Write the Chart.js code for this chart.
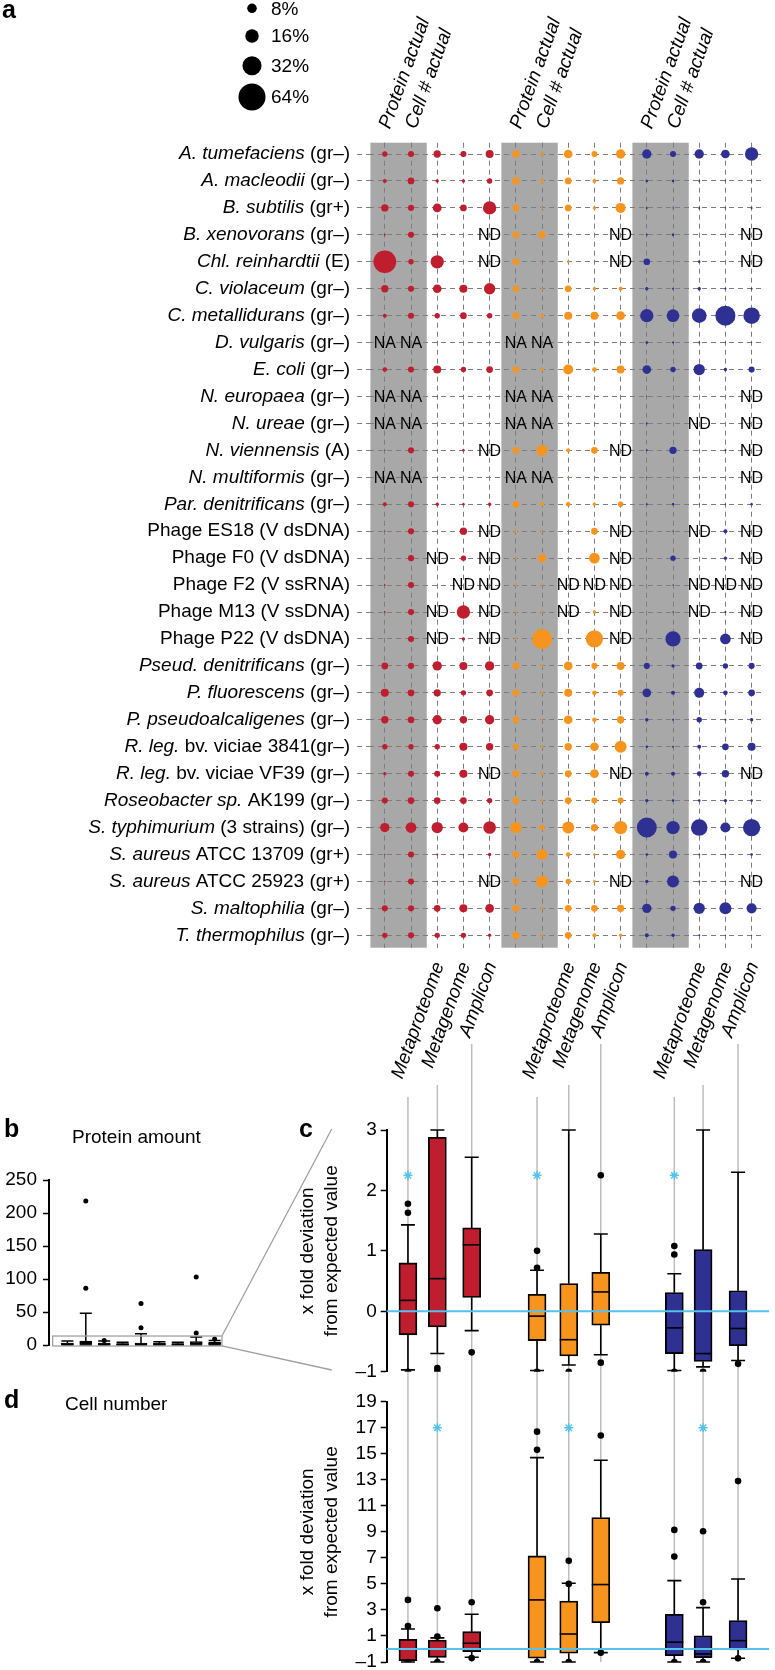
<!DOCTYPE html>
<html>
<head>
<meta charset="utf-8">
<script src="https://cdn.jsdelivr.net/npm/chart.js@4.4.1/dist/chart.umd.min.js"></script>
<style>
  html, body { margin: 0; padding: 0; background: #fff; }
  body { width: 775px; height: 1670px; position: relative; overflow: hidden;
         font-family: "Liberation Sans", Arial, Helvetica, sans-serif; color: #000; }
  canvas { position: absolute; }
  .panel { position: absolute; font-weight: bold; font-size: 25px; line-height: 1; }
  .title { position: absolute; font-size: 19px; line-height: 1; white-space: nowrap; }
</style>
</head>
<body>
<canvas id="chartA" width="775" height="1100" style="left:0;top:0;width:775px;height:1100px"></canvas>
<canvas id="chartB" width="340" height="300" style="left:0;top:1100px;width:340px;height:300px"></canvas>
<canvas id="chartC" width="485" height="345" style="left:290px;top:1040px;width:485px;height:345px"></canvas>
<canvas id="chartD" width="485" height="290" style="left:290px;top:1385px;width:485px;height:290px"></canvas>

<div class="panel" style="left:2px;top:-3px">a</div>
<div class="panel" style="left:4px;top:1116px">b</div>
<div class="panel" style="left:299px;top:1116px">c</div>
<div class="panel" style="left:4px;top:1387px">d</div>
<div class="title" style="left:72px;top:1127px">Protein amount</div>
<div class="title" style="left:65px;top:1394px">Cell number</div>

<script>
// ---------- panel a: share of each organism (%) ----------
const species = [
  ['A. tumefaciens', ' (gr–)'],
  ['A. macleodii', ' (gr–)'],
  ['B. subtilis', ' (gr+)'],
  ['B. xenovorans', ' (gr–)'],
  ['Chl. reinhardtii', ' (E)'],
  ['C. violaceum', ' (gr–)'],
  ['C. metallidurans', ' (gr–)'],
  ['D. vulgaris', ' (gr–)'],
  ['E. coli', ' (gr–)'],
  ['N. europaea', ' (gr–)'],
  ['N. ureae', ' (gr–)'],
  ['N. viennensis', ' (A)'],
  ['N. multiformis', ' (gr–)'],
  ['Par. denitrificans', ' (gr–)'],
  ['', 'Phage ES18 (V dsDNA)'],
  ['', 'Phage F0 (V dsDNA)'],
  ['', 'Phage F2 (V ssRNA)'],
  ['', 'Phage M13 (V ssDNA)'],
  ['', 'Phage P22 (V dsDNA)'],
  ['Pseud. denitrificans', ' (gr–)'],
  ['P. fluorescens', ' (gr–)'],
  ['P. pseudoalcaligenes', ' (gr–)'],
  ['R. leg.', ' bv. viciae 3841(gr–)'],
  ['R. leg.', ' bv. viciae VF39 (gr–)'],
  ['Roseobacter sp.', ' AK199 (gr–)'],
  ['S. typhimurium', ' (3 strains) (gr–)'],
  ['S. aureus', ' ATCC 13709 (gr+)'],
  ['S. aureus', ' ATCC 25923 (gr+)'],
  ['S. maltophilia', ' (gr–)'],
  ['T. thermophilus', ' (gr–)']
];
const actualLabels = ['Protein actual', 'Cell # actual'];
const methodLabels = ['Metaproteome', 'Metagenome', 'Amplicon'];
const sizeKey = [8, 16, 32, 64];

// red community
const redProt = [2.5, 1.4, 4.7, 0.35, 45, 4.7, 1.4, 'NA', 1.9, 'NA', 'NA', 0.15, 'NA', 1.4, 0.15, null, 0.3, 0.3, null, 3.9, 5.6, 4.7, 2.5, 1, 3.2, 7.6, 0.15, 0.15, 3.2, 2.5];
const redCell = [3.2, 3.9, 3.2, 3.2, 2.5, 3.2, 3.2, 'NA', 3.2, 'NA', 'NA', 3.2, 'NA', 3.2, 3.2, 3.2, 3.2, 3.2, 3.2, 3.2, 3.9, 3.9, 2.5, 3.2, 3.9, 10, 3.2, 3.2, 3.2, 3.2];
const redMP = [4.7, 1, 6.6, 0.1, 15.5, 6.6, 2.5, null, 5.6, 0.1, null, 0.15, 0.1, 1, null, 'ND', null, 'ND', 'ND', 7.6, 4.7, 7.6, 2.5, 3.2, 3.9, 11.2, 0.35, 0.15, 3.9, 2.5];
const redMG = [3.2, 1, 3.9, null, null, 5.6, 3.9, null, 2.5, null, null, 0.6, null, 0.6, 4.7, 2.5, 'ND', 15.5, 1, 5.6, 2.5, 4.7, 5.6, 5.6, 3.9, 8.8, 0.15, 0.15, 5.6, 2.5];
const redAmp = [5.6, 2.5, 15.5, 'ND', 'ND', 11.2, 2.5, null, 3.9, null, null, 'ND', null, 1, 'ND', 'ND', 'ND', 'ND', 'ND', 7.6, 3.9, 7.6, 4.7, 'ND', 2.5, 14, 1, 'ND', 6.6, 1];
// orange community
const orProt = [4.7, 4.7, 3.9, 3.9, 3.9, 3.9, 3.9, 'NA', 3.9, 'NA', 'NA', 3.9, 'NA', 3.9, 0.6, 0.35, 0.35, 0.35, 0.35, 3.9, 3.9, 3.9, 3.2, 3.9, 3.9, 11.2, 3.9, 3.9, 3.9, 4.7];
const orCell = [1, 1.4, 0.35, 4.7, 0.1, 0.35, 1.4, 'NA', 1, 'NA', 'NA', 11.2, 'NA', 1.4, 0.35, 5.6, 0.35, 0.35, 35, 0.6, 0.6, 0.35, 0.6, 1, 0.6, 2.5, 10, 12.6, 0.6, 0.6];
const orMP = [6.6, 3.9, 3.9, null, 0.6, 3.9, 5.6, null, 8.8, null, null, 1.4, 0.15, 1.9, null, null, 'ND', 'ND', null, 6.6, 5.6, 6.6, 4.7, 3.9, 3.9, 12.6, 1.9, 2.5, 3.9, 3.9];
const orMG = [3.2, 1.4, 1, null, null, 1, 5.6, null, 1.9, null, null, 3.9, null, 1, 3.9, 10, 'ND', 1, 26, 3.2, 1.9, 1.9, 6.6, 6.6, 3.2, 4.7, 0.6, 0.6, 3.9, 1.4];
const orAmp = [7.6, 4.7, 8.8, 'ND', 'ND', 1.4, 6.6, null, 5.6, null, null, 'ND', null, 2.5, 'ND', 'ND', 'ND', 'ND', 'ND', 5.6, 3.2, 4.7, 12.6, 'ND', 3.2, 15.5, 7.6, 'ND', 4.7, 1];
// blue community
const bluProt = [7.6, 0.6, 0.35, 0.35, 3.9, 1, 15.5, 0.6, 6.6, 0.05, 0.35, 0.35, 0.15, 0.35, null, null, null, null, null, 3.2, 6.6, 1, 0.6, 1.4, 1, 35, 0.6, 1, 7.6, 1.4];
const bluCell = [3.2, 0.6, 0.15, 0.6, null, 0.35, 14, 0.35, 2.5, null, null, 4.7, null, 0.6, 0.15, 2.5, 0.15, 0.15, 20.5, 1, 1.4, 0.35, 0.35, 1.4, 0.6, 15.5, 5.6, 12.6, 2.5, 1];
const bluMP = [7.6, 0.35, 0.35, null, 0.6, 1, 18.8, 0.35, 11.2, null, 'ND', 0.15, 0.1, 0.15, 'ND', null, 'ND', 'ND', null, 3.9, 8.8, 2.5, 1.4, 1.9, 0.6, 24, 0.35, 0.35, 11.2, 0.35];
const bluMG = [6.6, 0.15, 0.15, null, null, 0.35, 35, 0.15, 1, null, null, 0.35, null, 0.15, 1.4, 1, 'ND', 0.35, 10, 2.5, 1.9, 0.35, 3.9, 4.7, 1, 8.8, 0.15, 0.15, 12.6, 0.15];
const bluAmp = [15.5, 0.15, 0.35, 'ND', 'ND', 0.35, 24, 0.15, 3.2, 'ND', 'ND', 'ND', 'ND', 0.6, 'ND', 'ND', 'ND', 'ND', 'ND', 3.2, 3.9, 1, 5.6, 'ND', 0.6, 26, 0.6, 'ND', 8.8, 0.15];

// ---------- panel b: protein amount, [min, q1, median, q3, max] ----------
const protAmountBox = [[0, 0.5, 1.5, 3, 6], [0, 1, 3, 6, 48], [0, 0.5, 1.5, 3, 6], [0, 0.3, 1, 2, 4], [0, 0.5, 1.5, 3, 17],
                       [0, 0.5, 1.5, 3, 5], [0, 0.3, 1, 2, 4], [0, 1, 2.5, 5, 12], [0, 1, 2, 4, 7]];
const protAmountOut = [[], [86, 218], [7], [], [26, 63], [], [], [18, 103], [9]];

// ---------- panels c and d: x fold deviation ----------
const protDevBox = [
  [-0.97, -0.39, 0.18, 0.80, 1.43], [-0.70, -0.26, 0.54, 2.88, 3.0], [-0.32, 0.23, 1.10, 1.38, 2.55],
  [-0.98, -0.485, -0.08, 0.28, 0.68], [-0.89, -0.74, -0.47, 0.46, 3.0], [-0.72, -0.23, 0.32, 0.645, 1.28],
  [-0.98, -0.70, -0.275, 0.31, 0.62], [-0.92, -0.83, -0.70, 1.02, 3.0], [-0.815, -0.57, -0.285, 0.34, 2.30]
];
const protDevOut = [[1.78, 1.63, -1], [-0.94, -0.99], [-0.68], [1.0, 0.72, -1], [-1], [2.25, -0.85], [1.08, 0.94, -1], [-1], [-0.87]];
const cellDevBox = [
  [-1, -0.9, 0.0, 0.75, 1.54], [-1, -0.64, 0.0, 0.69, 0.85], [-0.64, -0.21, 0.44, 1.33, 2.67],
  [-1, -0.71, 3.77, 7.15, 14.7], [-1, -0.33, 1.15, 3.69, 5.05], [-0.28, 2.02, 4.95, 10.1, 14.5],
  [-1, -0.52, 0.52, 2.67, 5.25], [-1, -0.67, -0.38, 1.02, 3.18], [-0.71, -0.08, 0.64, 2.18, 5.38]
];
const cellDevOut = [[3.77, 1.77, -1], [3.13, 0.95, -1], [3.59, -0.7], [16.7, 15.3, -1], [6.77, 5.0, -1], [16.4, -0.28], [9.15, 7.1, -1], [9.05, 3.59, -1], [12.9, -0.71]];
const protStarLevel = 2.25;   // star above metaproteome
const cellStarLevel = 17;     // star above metagenome

// ---------- look ----------
const FONT = '"Liberation Sans", Arial, Helvetica, sans-serif';
const RED = '#be1e2d', ORANGE = '#f7941d', BLUE = '#2e3192';
const groupColors = [RED, ORANGE, BLUE];
const boxColors = [RED, RED, RED, ORANGE, ORANGE, ORANGE, BLUE, BLUE, BLUE];
const CYAN = '#52c2ef';
const GRID = '#7d7d7d';
const K = 1.69;               // bubble radius px per sqrt(%)
const TILT = -70 * Math.PI / 180;
const boxSlot = [0.65, 1.55, 2.6, 4.6, 5.57, 6.55, 8.8, 9.68, 10.75];
const guideTop = [57, 45, 4]; // where the grey guide lines start below the method labels

Chart.defaults.font.family = FONT;
Chart.defaults.font.size = 19;
Chart.defaults.color = '#000';

const cols = [redProt, redCell, redMP, redMG, redAmp, orProt, orCell, orMP, orMG, orAmp, bluProt, bluCell, bluMP, bluMG, bluAmp];
const topLabels = [], bottomLabels = [];
for (let g = 0; g < 3; g++) {
  topLabels.push(...actualLabels, '', '', '');
  bottomLabels.push('', '', ...methodLabels);
}
const colTicks = cols.map((_, i) => ({value: i}));

const bubbleSets = groupColors.map((c, g) => {
  const pts = [];
  for (let k = 0; k < 5; k++) {
    const col = g * 5 + k;
    cols[col].forEach((v, row) => {
      if (typeof v === 'number') pts.push({x: col, y: row, r: Math.max(0.6, K * Math.sqrt(v))});
    });
  }
  return {data: pts, backgroundColor: c, borderWidth: 0, hoverBorderWidth: 0, clip: false};
});

// grey bands behind the "actual" columns
const bandsPlugin = {
  id: 'bands',
  beforeDraw(chart) {
    const {ctx, chartArea, scales: {x}} = chart;
    ctx.save();
    ctx.fillStyle = '#a8a8a8';
    [0, 5, 10].forEach(s => {
      const l = x.getPixelForValue(s - 0.55), r = x.getPixelForValue(s + 1.6);
      ctx.fillRect(l, chartArea.top, r - l, chartArea.bottom - chartArea.top);
    });
    ctx.restore();
  }
};

// species names, column names, ND / NA marks and the size key
const annotPlugin = {
  id: 'annot',
  afterDraw(chart) {
    const {ctx, chartArea, scales: {x, y}} = chart;
    ctx.save();
    ctx.fillStyle = '#000';
    ctx.textBaseline = 'middle';
    ctx.textAlign = 'left';
    const right = chartArea.left - 19;
    species.forEach(([it, rm], i) => {
      const py = y.getPixelForValue(i);
      ctx.font = `19px ${FONT}`;
      const wr = ctx.measureText(rm).width;
      ctx.font = `italic 19px ${FONT}`;
      const wi = ctx.measureText(it).width;
      ctx.fillText(it, right - wr - wi, py);
      ctx.font = `19px ${FONT}`;
      ctx.fillText(rm, right - wr, py);
    });

    // tilted column names
    ctx.font = `italic 19px ${FONT}`;
    ctx.textBaseline = 'alphabetic';
    bottomLabels.forEach((t, c) => {
      if (!t) return;
      ctx.save();
      ctx.translate(x.getPixelForValue(c) + 7, chartArea.bottom + 17);
      ctx.rotate(TILT);
      ctx.textAlign = 'right';
      ctx.fillText(t, 0, 0);
      ctx.restore();
    });
    topLabels.forEach((t, c) => {
      if (!t) return;
      ctx.save();
      ctx.translate(x.getPixelForValue(c) + 5, chartArea.top - 13);
      ctx.rotate(TILT);
      ctx.textAlign = 'left';
      ctx.fillText(t, 0, 0);
      ctx.restore();
    });

    ctx.font = `16px ${FONT}`;
    ctx.textAlign = 'center';
    ctx.textBaseline = 'middle';
    cols.forEach((arr, c) => arr.forEach((v, row) => {
      if (v === 'ND' || v === 'NA') ctx.fillText(v, x.getPixelForValue(c), y.getPixelForValue(row) + 1);
    }));
    // size key
    const keyY = [8.3, 36, 65.7, 97];
    ctx.font = `19px ${FONT}`;
    ctx.textAlign = 'left';
    sizeKey.forEach((v, i) => {
      ctx.beginPath();
      ctx.arc(252, keyY[i], K * Math.sqrt(v), 0, Math.PI * 2);
      ctx.fill();
      ctx.fillText(v + '%', 271, keyY[i] + 1);
    });
    ctx.restore();
  }
};

new Chart(document.getElementById('chartA'), {
  type: 'bubble',
  data: {datasets: bubbleSets},
  options: {
    responsive: false, animation: false, events: [],
    layout: {padding: {top: 142.7, left: 0, right: 0, bottom: 0}},
    plugins: {legend: {display: false}, tooltip: {enabled: false}},
    scales: {
      x: {
        type: 'linear', position: 'bottom', min: -0.6, max: 14.46,
        afterBuildTicks: s => { s.ticks = colTicks.map(t => ({...t})); },
        afterFit: s => { s.height = 1100 - 947.7; s.paddingLeft = 0; s.paddingRight = 0; },
        ticks: {display: false},
        grid: {color: GRID, lineWidth: 1, drawTicks: false},
        border: {display: false, dash: [5, 4]}
      },
      y: {
        type: 'linear', position: 'left', reverse: true, min: -0.42, max: 29.46,
        afterBuildTicks: s => { s.ticks = species.map((_, i) => ({value: i})); },
        afterFit: s => { s.width = 369.1; s.paddingTop = 0; s.paddingBottom = 0; },
        ticks: {display: false},
        grid: {color: GRID, lineWidth: 1, tickLength: 12, tickColor: GRID, tickBorderDash: [5, 4]},
        border: {display: false, dash: [5, 4]}
      }
    }
  },
  plugins: [bandsPlugin, annotPlugin]
});

// ---------- box plot helpers ----------
function boxLayer(boxes, slots, o) {
  return {
    id: 'boxLayer',
    beforeDatasetsDraw(chart) {
      const {ctx, scales: {x, y}} = chart;
      ctx.save();
      if (o.guideFrom) {
        ctx.strokeStyle = '#bdbdbd';
        ctx.lineWidth = 1.5;
        slots.forEach((s, i) => {
          const px = x.getPixelForValue(s);
          ctx.beginPath();
          ctx.moveTo(px, o.guideFrom(i));
          ctx.lineTo(px, o.guideTo(chart));
          ctx.stroke();
        });
      }
      ctx.strokeStyle = '#000';
      ctx.lineWidth = o.lw;
      boxes.forEach((b, i) => {
        const px = x.getPixelForValue(slots[i]);
        const [lo, q1, , q3, hi] = b.map(v => y.getPixelForValue(v));
        ctx.beginPath();
        ctx.moveTo(px, q3); ctx.lineTo(px, hi);
        ctx.moveTo(px, q1); ctx.lineTo(px, lo);
        ctx.moveTo(px - o.cap / 2, hi); ctx.lineTo(px + o.cap / 2, hi);
        ctx.moveTo(px - o.cap / 2, lo); ctx.lineTo(px + o.cap / 2, lo);
        ctx.stroke();
      });
      ctx.restore();
    },
    afterDatasetsDraw(chart) {
      const {ctx, chartArea, scales: {x, y}} = chart;
      ctx.save();
      ctx.strokeStyle = '#000';
      ctx.lineWidth = o.lw;
      boxes.forEach((b, i) => {
        const px = x.getPixelForValue(slots[i]);
        const py = y.getPixelForValue(b[2]);
        ctx.beginPath();
        ctx.moveTo(px - o.width / 2, py); ctx.lineTo(px + o.width / 2, py);
        ctx.stroke();
      });
      if (o.zeroLine) {
        const py = y.getPixelForValue(0);
        ctx.strokeStyle = CYAN;
        ctx.lineWidth = 2;
        ctx.beginPath();
        ctx.moveTo(chartArea.left, py); ctx.lineTo(chartArea.right, py);
        ctx.stroke();
      }
      ctx.restore();
    }
  };
}

function outlierPoints(out, slots) {
  const pts = [];
  out.forEach((arr, i) => arr.forEach(v => pts.push({x: slots[i], y: v})));
  return pts;
}

const minusFmt = v => String(v).replace('-', '–');

// ---------- panel b ----------
const bSlots = protAmountBox.map((_, i) => i);
const zoomPlugin = {
  id: 'zoomBox',
  afterDraw(chart) {
    const {ctx, scales: {x, y}} = chart;
    const l = x.getPixelForValue(-0.8), r = x.getPixelForValue(8.4);
    const t = y.getPixelForValue(13.6), b = y.getPixelForValue(-1.5);
    ctx.save();
    ctx.strokeStyle = '#a0a0a0';
    ctx.lineWidth = 1.3;
    ctx.strokeRect(l, t, r - l, b - t);
    ctx.beginPath();
    ctx.moveTo(r, t); ctx.lineTo(331.7, 29);
    ctx.moveTo(r, b); ctx.lineTo(331.7, 270);
    ctx.stroke();
    ctx.restore();
  }
};

new Chart(document.getElementById('chartB'), {
  type: 'bar',
  data: {datasets: [
    {type: 'scatter', data: outlierPoints(protAmountOut, bSlots), pointRadius: 2.5, backgroundColor: '#000', borderWidth: 0},
    {data: protAmountBox.map((b, i) => ({x: bSlots[i], y: [b[1], b[3]]})), backgroundColor: '#000',
     borderColor: '#000', borderWidth: 1.5, borderSkipped: false, barThickness: 12}
  ]},
  options: {
    responsive: false, animation: false, events: [],
    layout: {padding: {top: 80, bottom: 55, left: 0, right: 107}},
    plugins: {legend: {display: false}, tooltip: {enabled: false}},
    scales: {
      x: {type: 'linear', min: -1, max: 9, offset: false, display: false},
      y: {
        min: 0, max: 250,
        ticks: {stepSize: 50, padding: 6},
        grid: {drawOnChartArea: false, tickLength: 6, tickColor: '#000', tickWidth: 1.5},
        border: {color: '#000', width: 2},
        afterFit: s => { s.width = 49; s.paddingTop = 0; s.paddingBottom = 0; }
      }
    }
  },
  plugins: [boxLayer(protAmountBox, bSlots, {lw: 1.5, cap: 12, width: 12}), zoomPlugin]
});

// ---------- panels c and d ----------
function deviationChart(id, boxes, outs, starLevel, starSlots, yMin, yMax, step, pad, guideFrom, guideTo) {
  return new Chart(document.getElementById(id), {
    type: 'bar',
    data: {datasets: [
      {type: 'scatter', data: outlierPoints(outs, boxSlot), pointRadius: 3.3, backgroundColor: '#000', borderWidth: 0},
      {type: 'scatter', data: starSlots.map(i => ({x: boxSlot[i], y: starLevel})), pointStyle: 'star',
       pointRadius: 4.5, borderColor: CYAN, borderWidth: 1.4, backgroundColor: CYAN},
      {data: boxes.map((b, i) => ({x: boxSlot[i], y: [b[1], b[3]]})), backgroundColor: boxColors,
       borderColor: '#000', borderWidth: 1.8, borderSkipped: false, barThickness: 18}
    ]},
    options: {
      responsive: false, animation: false, events: [],
      layout: {padding: {top: pad[0], bottom: pad[1], left: 0, right: 0}},
      plugins: {legend: {display: false}, tooltip: {enabled: false}},
      scales: {
        x: {type: 'linear', min: 0, max: 11.7, offset: false, display: false},
        y: {
          min: yMin, max: yMax,
          ticks: {stepSize: step, padding: 4, callback: minusFmt},
          grid: {drawOnChartArea: false, tickLength: 6, tickColor: '#000', tickWidth: 1.5},
          border: {color: '#000', width: 2},
          title: {display: true, text: ['x fold deviation', 'from expected value'],
                  font: {size: 19, lineHeight: 1.26}, padding: {top: 6, bottom: 0}},
          afterFit: s => { s.width = 96.7; s.paddingTop = 0; s.paddingBottom = 0; }
        }
      }
    },
    plugins: [boxLayer(boxes, boxSlot, {lw: 1.6, cap: 14, width: 18, zeroLine: true, guideFrom, guideTo})]
  });
}

deviationChart('chartC', protDevBox, protDevOut, protStarLevel, [0, 3, 6], -1, 3, 1, [90, 13.3],
  i => guideTop[i % 3], chart => chart.height);
deviationChart('chartD', cellDevBox, cellDevOut, cellStarLevel, [1, 4, 7], -1, 19, 2, [16.7, 13],
  () => 0, chart => chart.chartArea.bottom);
</script>
</body>
</html>
